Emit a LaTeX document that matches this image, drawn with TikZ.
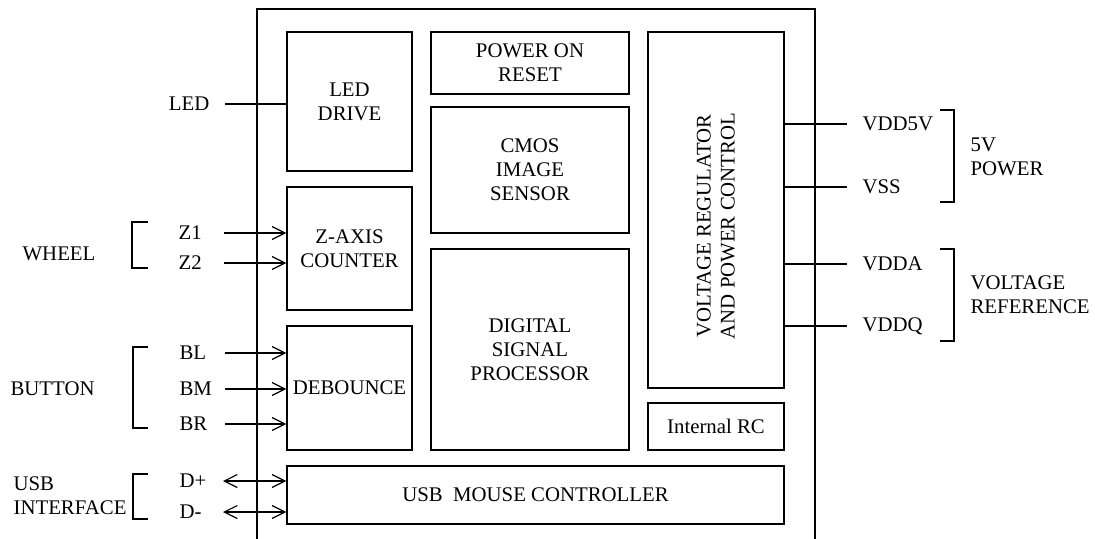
\documentclass[tikz,border=0pt]{standalone}
\usepackage{fontspec}
\setmainfont{Liberation Serif}
\usetikzlibrary{arrows.meta,fit}
\begin{document}
\begin{tikzpicture}[x=0.5pt,y=-0.5pt, line width=0.6pt,
  every node/.style={font=\fontsize{10.4}{12}\selectfont},
  blk/.style={draw, inner sep=0pt},
  lbl/.style={inner sep=0pt, align=center},
  arr/.style={-{Straight Barb[length=6.5pt,width=6.5pt]}},
  darr/.style={{Straight Barb[length=6.5pt,width=6.5pt]}-{Straight Barb[length=6.5pt,width=6.5pt]}}]
\useasboundingbox (0,0) rectangle (1095,539);
% outer chip outline
\draw (257,545) -- (257,9) -- (815,9) -- (815,545);
% blocks
\node[blk, fit={(287,32)(412,171)}] (led) {};
\node[blk, fit={(431,32)(629,94)}] (por) {};
\node[blk, fit={(431,107)(629,233)}] (cmos) {};
\node[blk, fit={(431,249)(629,450)}] (dsp) {};
\node[blk, fit={(648,32)(784,388)}] (vreg) {};
\node[blk, fit={(648,403)(784,450)}] (rc) {};
\node[blk, fit={(287,187)(412,310)}] (zax) {};
\node[blk, fit={(287,326)(412,450)}] (deb) {};
\node[blk, fit={(287,466)(784,524)}] (usb) {};
% block texts
\node[lbl] (ledtxt) at (led.center) {LED\\DRIVE};
\node[lbl] (portxt) at (por.center) {POWER ON\\RESET};
\node[lbl] (cmostxt) at (cmos.center) {CMOS\\IMAGE\\SENSOR};
\node[lbl] (dsptxt) at (dsp.center) {DIGITAL\\SIGNAL\\PROCESSOR};
\node[lbl, rotate=90] (vregtxt) at (716,226) {VOLTAGE REGULATOR\\AND POWER CONTROL};
\node[lbl] (rctxt) at (rc.center) {Internal RC};
\node[lbl] (zaxtxt) at (zax.center) {Z-AXIS\\COUNTER};
\node[lbl] (debtxt) at (deb.center) {DEBOUNCE};
\node[lbl] (usbtxt) at (usb.center) {USB\ \ MOUSE CONTROLLER};
% left labels
\node[lbl, anchor=east] (tled) at (210,104) {LED};
\node[lbl, anchor=west] (tz1) at (178,233) {Z1};
\node[lbl, anchor=west] (tz2) at (178,263) {Z2};
\node[lbl, anchor=west] (twheel) at (22,254) {WHEEL};
\node[lbl, anchor=west] (tbl) at (179,353) {BL};
\node[lbl, anchor=west] (tbm) at (179,389) {BM};
\node[lbl, anchor=west] (tbr) at (179,424) {BR};
\node[lbl, anchor=west] (tbutton) at (10,389) {BUTTON};
\node[lbl, anchor=west] (tdp) at (179,481) {D+};
\node[lbl, anchor=west] (tdm) at (179,512) {D-};
\node[lbl, anchor=west, align=left] (tusbif) at (13,495.5) {USB\\INTERFACE};
% right labels
\node[lbl, anchor=west] (tvdd5) at (862,124) {VDD5V};
\node[lbl, anchor=west] (tvss) at (862,187) {VSS};
\node[lbl, anchor=west] (tvdda) at (862,264) {VDDA};
\node[lbl, anchor=west] (tvddq) at (862,326) {VDDQ};
\node[lbl, anchor=west, align=left] (t5v) at (970,157) {5V\\POWER};
\node[lbl, anchor=west, align=left] (tvref) at (970,295) {VOLTAGE\\REFERENCE};
% connector start points
\coordinate (sled) at (225,104);
\coordinate (sz1) at (224,233);
\coordinate (sz2) at (224,263);
\coordinate (sbl) at (225,353);
\coordinate (sbm) at (225,389);
\coordinate (sbr) at (225,424);
\coordinate (sdp) at (223,481);
\coordinate (sdm) at (223,512);
\coordinate (evdd5) at (847,124);
\coordinate (evss) at (847,187);
\coordinate (evdda) at (847,264);
\coordinate (evddq) at (847,326);
% connectors
\draw (sled) -- (sled -| led.west);
\draw[arr] (sz1) -- (sz1 -| zax.west);
\draw[arr] (sz2) -- (sz2 -| zax.west);
\draw[arr] (sbl) -- (sbl -| deb.west);
\draw[arr] (sbm) -- (sbm -| deb.west);
\draw[arr] (sbr) -- (sbr -| deb.west);
\draw[darr] (sdp) -- (sdp -| usb.west);
\draw[darr] (sdm) -- (sdm -| usb.west);
\draw (evdd5 -| vreg.east) -- (evdd5);
\draw (evss -| vreg.east) -- (evss);
\draw (evdda -| vreg.east) -- (evdda);
\draw (evddq -| vreg.east) -- (evddq);
% brackets
\draw (148,222) -- (132,222) -- (132,268) -- (148,268);
\draw (148,347) -- (133,347) -- (133,428) -- (148,428);
\draw (148,474) -- (133,474) -- (133,519) -- (148,519);
\draw (940,110) -- (954,110) -- (954,202) -- (940,202);
\draw (940,249) -- (954,249) -- (954,341) -- (940,341);
\end{tikzpicture}
\end{document}
